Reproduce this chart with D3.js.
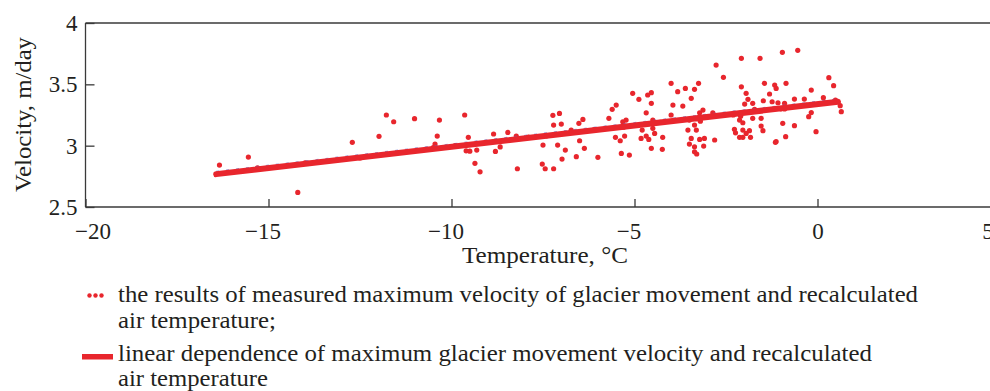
<!DOCTYPE html>
<html>
<head>
<meta charset="utf-8">
<script src="https://cdn.jsdelivr.net/npm/d3@7"></script>
<style>
  html, body { margin: 0; padding: 0; background: #fff; overflow: hidden; }
  svg { display: block; }
  text { font-family: "Liberation Serif", "Times New Roman", serif; fill: #231f20; }
</style>
</head>
<body>
<svg id="chart" width="990" height="391"></svg>
<script>
// ---------------- data ----------------
const temperature = [
  -16.34, -15.55, -14.2, -12.71, -11.98, -11.78, -11.58,
  -11.01, -10.33, -9.64, -10.39, -10.45, -9.54, -9.6, -9.5, -9.31, -9.36, -9.22, -8.85, -8.8, -8.67, -8.46, -8.23, -8.2,
  -7.23, -7.05, -7.21, -7.0, -7.5, -7.52, -7.44, -7.21, -7.1, -6.89, -6.98, -6.73, -6.52, -6.41, -6.5, -6.37, -6.59, -6.0,
  -5.7, -5.61, -5.5, -5.52, -5.39, -5.36, -5.27, -5.32,
  -4.0, -3.25, -5.05, -4.54, -4.64, -4.88, -3.82, -3.61, -3.36, -3.45, -3.95, -4.54, -3.68, -4.68, -4.0, -3.22,
  -5.23, -4.5, -3.5, -4.79, -4.5, -3.36, -4.68, -4.45, -3.54, -3.31, -4.82, -4.61, -4.23, -3.45, -3.22, -3.5, -3.36,
  -4.54, -4.24, -5.14, -3.36, -3.3,
  -2.77, -2.08, -1.57, -2.57, -2.08, -1.45, -1.95, -1.31, -1.9, -1.99, -1.48, -1.24, -1.08, -1.77, -1.72, -2.13,
  -2.86, -3.13, -1.77, -1.54, -2.13, -2.04, -1.54, -2.27, -2.04, -1.86, -1.49, -2.24, -1.95, -2.13, -2.04, -1.83,
  -3.09, -2.81, -3.11, -1.13,
  -0.96, -0.54, -1.17, -1.13, -0.86, 0.31, 0.44, -0.17, -0.63, -0.36, 0.16, -0.9, 0.49, 0.62, 0.65, -0.9, -0.17,
  -0.24, -0.95, -0.63, -0.04, -0.87, -1.15,
  -15.3, -14.0, -12.5, -10.5, -9.9, -7.9, -7.4, -6.9, -6.1, -5.3, -4.3, -3.3, -3.2, -2.3, -2.1, -1.0, -0.3, 0.2
];
const velocity = [
  2.842, 2.907, 2.619, 3.027, 3.076, 3.25, 3.195,
  3.22, 3.209, 3.25, 3.078, 3.013, 3.068, 2.958, 2.955, 2.964, 2.856, 2.787, 3.095, 2.953, 2.99, 3.108, 3.078, 2.812,
  3.247, 3.263, 3.168, 3.176, 3.005, 2.85, 2.812, 2.812, 3.005, 2.964, 2.891, 3.127, 3.182, 3.214, 3.04, 2.978, 2.91, 2.905,
  3.223, 3.296, 3.331, 3.068, 3.04, 2.937, 3.078, 3.195,
  3.508, 3.508, 3.427, 3.432, 3.413, 3.378, 3.44, 3.467, 3.459, 3.386, 3.331, 3.345, 3.323, 3.268, 3.25, 3.268,
  3.209, 3.209, 3.209, 3.127, 3.141, 3.168, 3.078, 3.1, 3.127, 3.127, 3.059, 3.051, 3.068, 3.059, 3.051, 3.013, 2.991,
  2.978, 2.97, 2.923, 2.95, 2.932,
  3.657, 3.712, 3.712, 3.557, 3.48, 3.508, 3.427, 3.421, 3.378, 3.339, 3.366, 3.358, 3.35, 3.345, 3.296, 3.263,
  3.268, 3.29, 3.223, 3.223, 3.209, 3.187, 3.16, 3.133, 3.127, 3.122, 3.122, 3.105, 3.1, 3.068, 3.068, 3.068,
  3.059, 3.046, 2.997, 3.033,
  3.761, 3.777, 3.494, 3.467, 3.508, 3.554, 3.489, 3.453, 3.38, 3.38, 3.391, 3.345, 3.372, 3.326, 3.277, 3.299, 3.27,
  3.236, 3.182, 3.163, 3.114, 3.073, 3.027,
  2.82, 2.86, 2.9, 2.985, 3.0, 3.07, 3.08, 3.1, 3.13, 3.15, 3.19, 3.22, 3.2, 3.25, 3.24, 3.3, 3.33, 3.35
];
// fitted line end points
const fitT = [-16.43, 0.56];
const fitV = [2.768, 3.358];

const xTicks = [-20, -15, -10, -5, 0, 5];
const yTicks = [2.5, 3, 3.5, 4];
const yTickLabels = ["2.5", "3", "3.5", "4"];
const xTitle = "Temperature, °C";
const yTitle = "Velocity, m/day";
const legendLines = [
  "the results of measured maximum velocity of glacier movement and recalculated",
  "air temperature;",
  "linear dependence of maximum glacier movement velocity and recalculated",
  "air temperature"
];

// ---------------- layout ----------------
const RED = "#e8262d";
const AXIS = "#3a3a3a";
const svg = d3.select("#chart");

const x = d3.scaleLinear().domain([-20, 5]).range([85.5, 1000.5]);
const y = d3.scaleLinear().domain([2.5, 4]).range([207, 23]);

// scatter points
const pts = temperature.map((t, i) => ({ t, v: velocity[i] }));
svg.append("g").selectAll("circle").data(pts).join("circle")
  .attr("cx", d => x(d.t)).attr("cy", d => y(d.v))
  .attr("r", 2.6).attr("fill", RED);

// fitted line: faint blue under the thick red line
const fit = fitT.map((t, i) => ({ t, v: fitV[i] }));
const lineGen = d3.line().x(d => x(d.t)).y(d => y(d.v));
svg.append("path").datum(fit).attr("d", lineGen)
  .attr("fill", "none").attr("stroke", "#5b6ccf").attr("stroke-width", 1.2)
  .attr("stroke-dasharray", "3,7").attr("opacity", 0.7)
  .attr("transform", "translate(0,-2.8)");
svg.append("path").datum(fit).attr("d", lineGen)
  .attr("fill", "none").attr("stroke", RED).attr("stroke-width", 6)
  .attr("stroke-linecap", "round");

// axes frame
const frame = svg.append("g").attr("stroke", AXIS).attr("stroke-width", 1.3).attr("fill", "none");
frame.append("line").attr("x1", x(-20)).attr("x2", 990).attr("y1", y(2.5)).attr("y2", y(2.5));
frame.append("line").attr("x1", x(-20)).attr("x2", 990).attr("y1", y(4)).attr("y2", y(4));
frame.append("line").attr("x1", x(-20)).attr("x2", x(-20)).attr("y1", y(2.5)).attr("y2", y(4));

// x axis ticks (inward)
const xAxis = d3.axisBottom(x).tickValues(xTicks).tickSizeInner(-8).tickSizeOuter(0)
  .tickFormat(d => d < 0 ? "\u2212" + Math.abs(d) : String(d));
const gx = svg.append("g").attr("transform", `translate(0,${y(2.5)})`).call(xAxis);
gx.select(".domain").remove();
gx.selectAll(".tick line").attr("stroke", AXIS).attr("stroke-width", 1.3);
gx.selectAll(".tick text")
  .attr("font-size", 23).attr("fill", "#231f20")
  .attr("y", 16).attr("dy", "0.71em");
// center digits on the tick (minus hangs left), edge labels pulled inward
gx.selectAll(".tick text").each(function(d, i, nodes) {
  let dx = 0;
  if (d < 0) dx = -6;
  if (i === 0) dx = 7;
  if (i === nodes.length - 1) dx = -13;
  d3.select(this).attr("x", dx);
});

// y axis ticks (inward)
const yAxis = d3.axisLeft(y).tickValues(yTicks).tickSizeInner(-9).tickSizeOuter(0)
  .tickFormat((d, i) => yTickLabels[i]);
const gy = svg.append("g").attr("transform", `translate(${x(-20)},0)`).call(yAxis);
gy.select(".domain").remove();
gy.selectAll(".tick line").attr("stroke", AXIS).attr("stroke-width", 1.3);
gy.selectAll(".tick text")
  .attr("font-size", 23).attr("fill", "#231f20")
  .attr("x", -8);

// axis titles
svg.append("text").attr("x", 462).attr("y", 263)
  .attr("font-size", 24).attr("textLength", 166).attr("lengthAdjust", "spacingAndGlyphs")
  .text(xTitle);
svg.append("text").attr("transform", "translate(31,192) rotate(-90)")
  .attr("font-size", 24).attr("textLength", 155).attr("lengthAdjust", "spacingAndGlyphs")
  .text(yTitle);

// legend
const legY = [302, 328, 361, 386];
const legW = [800, 158, 754, 150];
const leg = svg.append("g");
leg.selectAll("text").data(legendLines).join("text")
  .attr("x", 118).attr("y", (d, i) => legY[i])
  .attr("font-size", 24)
  .attr("textLength", (d, i) => legW[i]).attr("lengthAdjust", "spacingAndGlyphs")
  .text(d => d);
leg.selectAll("circle").data([0, 1, 2]).join("circle")
  .attr("cx", d => 89.5 + d * 6).attr("cy", 295.5).attr("r", 2.2).attr("fill", RED);
leg.append("rect").attr("x", 82).attr("y", 354).attr("width", 31).attr("height", 5.5).attr("fill", RED);
</script>
</body>
</html>
